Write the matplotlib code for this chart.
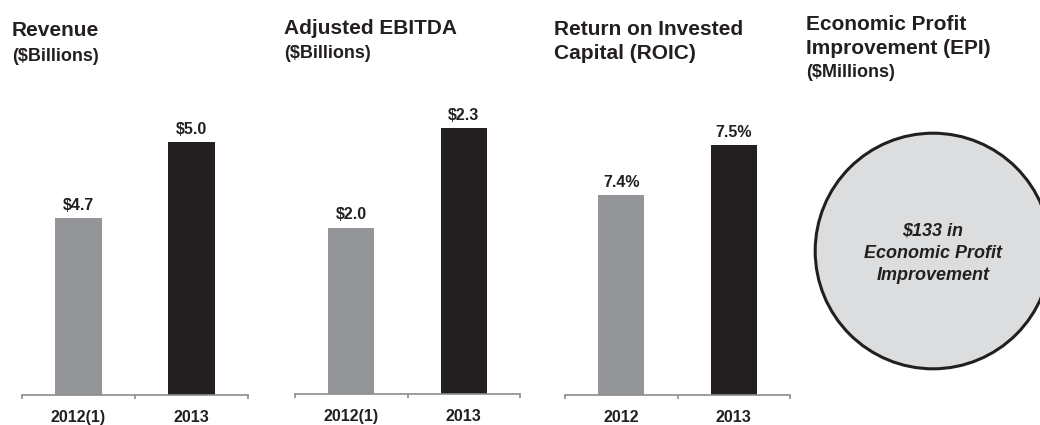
import matplotlib.pyplot as plt
from matplotlib.patches import Circle

plt.rcParams['font.family'] = ['Liberation Sans', 'DejaVu Sans']

# data
revenue_years = ['2012(1)', '2013']
revenue = [4.7, 5.0]
ebitda_years = ['2012(1)', '2013']
ebitda = [2.0, 2.3]
roic_years = ['2012', '2013']
roic = [7.4, 7.5]
epi_value = 133

GRAY = '#939598'
DARK = '#231f20'
AXIS = '#8c8c8c'

W, H = 1040, 425
fig = plt.figure(figsize=(W / 100, H / 100), dpi=100)


def px_axes(x0, x1, ytop, ybot):
    return fig.add_axes([x0 / W, 1 - ybot / H, (x1 - x0) / W, (ybot - ytop) / H])


def title(x, y, s, size):
    fig.text(x / W, 1 - y / H, s, fontsize=size, fontweight='bold',
             color=DARK, ha='left', va='baseline')


def bar_panel(ax, cats, vals, ylim, fmt):
    xs = list(range(len(vals)))
    ax.bar(xs, vals, width=0.41, color=[GRAY, DARK], zorder=2)
    ax.set_xlim(-0.5, len(vals) - 0.5)
    ax.set_ylim(*ylim)
    for x, v in zip(xs, vals):
        ax.annotate(fmt.format(v), (x, v), xytext=(0, 6), textcoords='offset points',
                    ha='center', va='baseline', fontsize=11.5, fontweight='bold', color=DARK)
    for s in ['top', 'right', 'left']:
        ax.spines[s].set_visible(False)
    ax.spines['bottom'].set_color(AXIS)
    ax.spines['bottom'].set_linewidth(1.2)
    ax.set_yticks([])
    ax.set_xticks(xs)
    ax.set_xticklabels(cats, fontsize=11.5, fontweight='bold', color=DARK)
    ax.tick_params(axis='x', which='major', length=0, pad=10.5)
    ax.set_xticks([i - 0.5 for i in range(len(vals) + 1)], minor=True)
    ax.tick_params(axis='x', which='minor', length=3, width=1.2, color=AXIS, direction='out')


ax1 = px_axes(22, 248, 100, 395)
bar_panel(ax1, revenue_years, revenue, (4.0, 4.0 + 295 / 253), '${:.1f}')

ax2 = px_axes(295, 520, 100, 394)
bar_panel(ax2, ebitda_years, ebitda, (1.5, 1.5 + 294 / 332.5), '${:.1f}')

ax3 = px_axes(565, 790, 100, 395)
bar_panel(ax3, roic_years, roic, (7.0, 7.0 + 295 / 500), '{:.1f}%')

# titles
title(12, 36, 'Revenue', 15)
title(12, 61, '($Billions)', 13)
title(284, 34, 'Adjusted EBITDA', 15)
title(284, 58, '($Billions)', 13)
title(554, 35, 'Return on Invested', 15)
title(554, 59, 'Capital (ROIC)', 15)
title(806, 30, 'Economic Profit', 15)
title(806, 54, 'Improvement (EPI)', 15)
title(806, 77, '($Millions)', 13)

# EPI circle
ax4 = px_axes(814, 1052, 132, 370)
ax4.set_xlim(-1, 1)
ax4.set_ylim(-1, 1)
ax4.axis('off')
ax4.add_patch(Circle((0, 0), 0.99, facecolor='#dcdddf', edgecolor=DARK,
                     linewidth=2.2, clip_on=False))
ax4.text(0, -0.02, f'${epi_value} in\nEconomic Profit\nImprovement', ha='center', va='center',
         fontsize=13, fontweight='bold', style='italic', color=DARK, linespacing=1.38)

plt.savefig('out.png', dpi=100)
